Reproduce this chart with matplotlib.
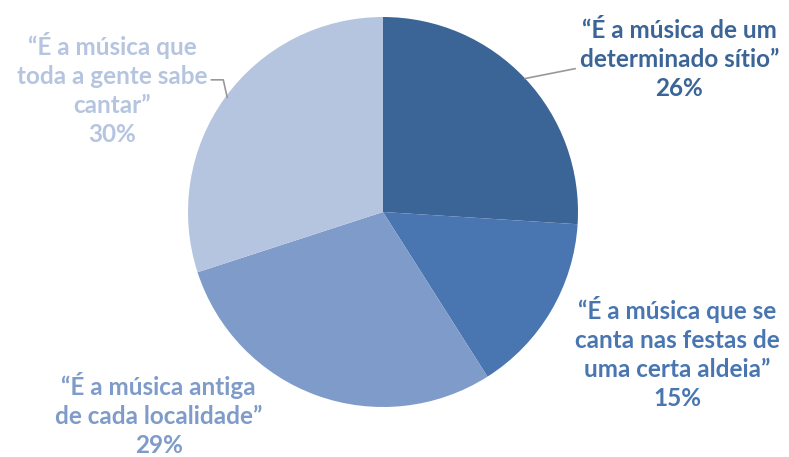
import numpy as np
import matplotlib.pyplot as plt

# data
labels = ['\u201cÉ a música de um\ndeterminado sítio\u201d',
          '\u201cÉ a música que se\ncanta nas festas de\numa certa aldeia\u201d',
          '\u201cÉ a música antiga\nde cada localidade\u201d',
          '\u201cÉ a música que\ntoda a gente sabe\ncantar\u201d']
shares = [26, 15, 29, 30]
colors = ['#3C6597', '#4976B1', '#7E9BC9', '#B6C5DF']

plt.rcParams['font.family'] = ['Lato', 'DejaVu Sans']

fig = plt.figure(figsize=(7.89, 4.57), dpi=100)
ax = fig.add_axes([188 / 789, 50 / 457, 390 / 789, 390 / 457])
wedges, _ = ax.pie(shares, colors=colors, startangle=90, counterclock=False,
                   wedgeprops=dict(linewidth=0))
ax.set_xlim(-1, 1)
ax.set_ylim(-1, 1)
ax.set_aspect('equal')
ax.axis('off')

# label positions (data units, radius = 1)
label_pos = [(1.52, 0.78), (1.51, -0.725), (-1.15, -1.04), (-1.39, 0.63)]
for lab, val, col, (lx, ly) in zip(labels, shares, colors, label_pos):
    ax.text(lx, ly, f'{lab}\n{val}%', ha='center', va='center', color=col,
            fontsize=17.5, fontweight='bold', linespacing=1.32, clip_on=False)

# leader lines from wedge mid-angles
for i, w in enumerate(wedges):
    mid = np.deg2rad((w.theta1 + w.theta2) / 2)
    ex, ey = np.cos(mid), np.sin(mid)
    if i == 0:
        ax.plot([ex, 0.985], [ey, 0.735], color='#999999', lw=1.2, clip_on=False)
    elif i == 3:
        ax.plot([ex + 0.01, ex - 0.01, -0.88], [ey, ey + 0.09, ey + 0.09],
                color='#999999', lw=1.2, clip_on=False)

fig.savefig('out.png', dpi=100)
